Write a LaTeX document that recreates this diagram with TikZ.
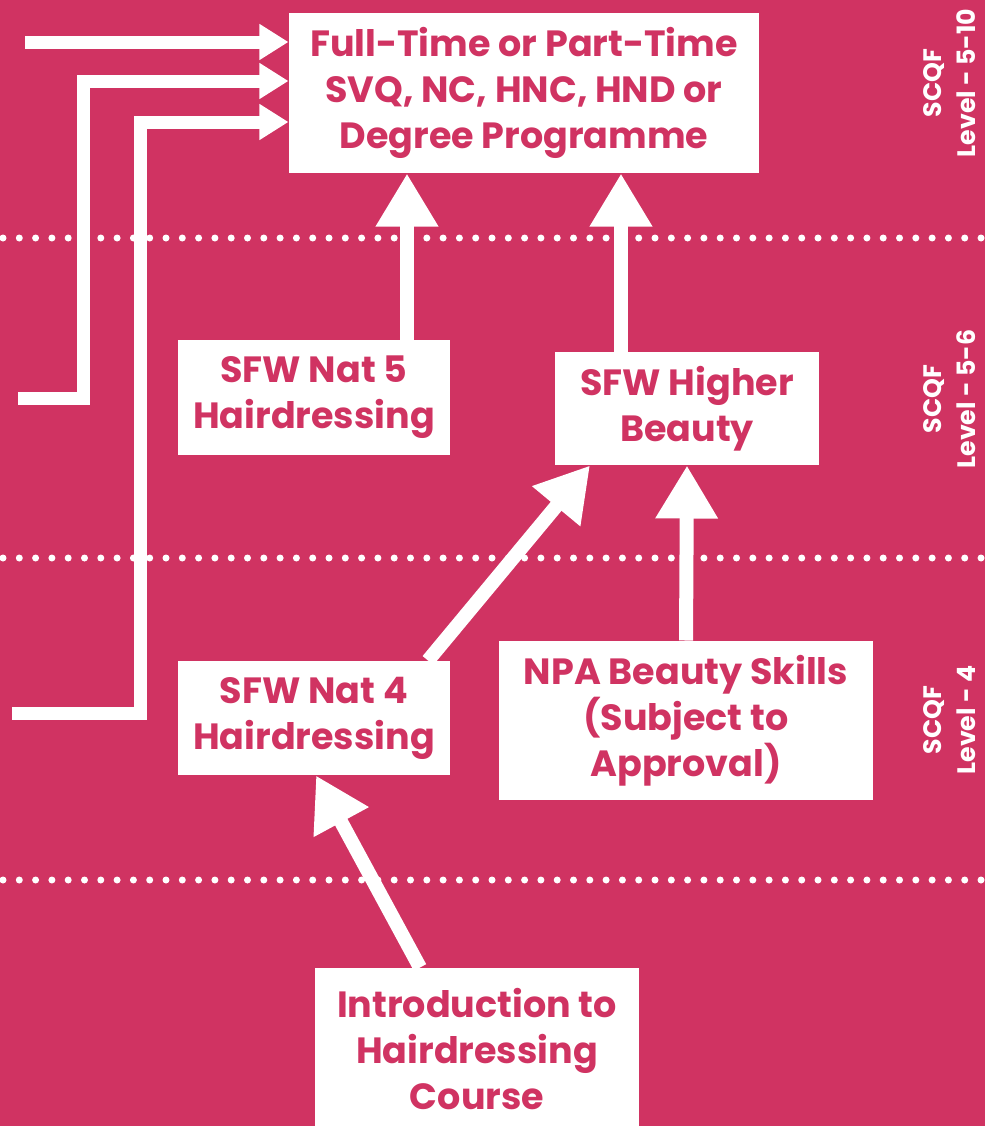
\documentclass[tikz,border=0pt]{standalone}
\usepackage{fontspec}
\setmainfont{Poppins}
\usetikzlibrary{arrows.meta,calc}
\definecolor{rose}{HTML}{D03362}

\tikzset{
  course/.style={fill=white, text=rose, font=\fontsize{14.6}{18.4}\selectfont\bfseries, align=center, inner sep=0pt},
  route/.style={draw=white, line width=5.6pt, -{Triangle[width=23.6pt,length=21.2pt]}},
  feed/.style={draw=white, line width=5.2pt, -{Triangle[width=13.6pt,length=11.6pt]}},
  level/.style={text=white, font=\fontsize{10.1}{13.6}\selectfont\bfseries, align=center, rotate=90},
  divider/.style={white, line width=2.8pt, line cap=round, dash pattern=on 0pt off 6.52pt}
}

\begin{document}
\begin{tikzpicture}[x=0.4pt, y=-0.4pt]
    % Background
    \fill[rose] (0,0) rectangle (985,1126);
    \useasboundingbox (0,0) rectangle (985,1126);

    % Level dividers
    \draw[divider] (3,238) -- (985,238);
    \draw[divider] (3,558) -- (985,558);
    \draw[divider] (3,880) -- (985,880);

    % Courses
    \node[course, minimum width=188pt, minimum height=64pt] (top) at (524,93) {Full-Time or Part-Time\\SVQ, NC, HNC, HND or\\Degree Programme};
    \node[course, minimum width=108.8pt, minimum height=46pt] (nat5) at (314,397.5) {SFW Nat 5\\Hairdressing};
    \node[course, minimum width=105.6pt, minimum height=45.2pt] (higher) at (687,408.5) {SFW Higher\\Beauty};
    \node[course, minimum width=108.8pt, minimum height=45.6pt] (nat4) at (314,718) {SFW Nat 4\\Hairdressing};
    \node[course, minimum width=149.6pt, minimum height=63.6pt] (npa) at (686,720.5) {NPA Beauty Skills\\(Subject to\\Approval)};
    \node[course, minimum width=129.6pt, minimum height=64.8pt] (intro) at (477,1049) {Introduction to\\Hairdressing\\Course};

    % SCQF levels
    \node[level] (lvl1) at (950,83) {SCQF\\Level - 5-10};
    \node[level] (lvl2) at (950,399) {SCQF\\Level - 5-6};
    \node[level] (lvl3) at (950,720) {SCQF\\Level - 4};

    % Progression routes
    \draw[route] ($(nat5.north)+(93,0)$) -- ($(top.south)+(-117,0)$);
    \draw[route] ($(higher.north)+(-66,0)$) -- ($(top.south)+(97,0)$);
    \draw[route] (npa.north) -- (higher.south);
    \draw[route] ($(nat4.north)+(114,0)$) -- ($(higher.south)+(-97,0)$);
    \draw[route] ($(intro.north)+(-57,0)$) -- ($(nat4.south)+(2,0)$);

    % Entry routes from the left
    \coordinate (in1) at (25,42);
    \coordinate (in2) at (18,398);
    \coordinate (in3) at (12,713);
    \draw[feed] (in1) -- (in1 -| top.west);
    \draw[feed] (in2) -- ++(65,0) |- ($(top.west)+(0,-12)$);
    \draw[feed] (in3) -- ++(128,0) |- ($(top.west)+(0,29)$);
\end{tikzpicture}
\end{document}
